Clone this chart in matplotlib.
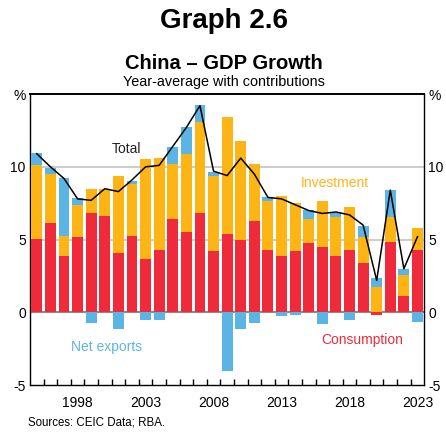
import numpy as np
import matplotlib.pyplot as plt

plt.rcParams['font.family'] = ['Liberation Sans', 'DejaVu Sans']

# Contributions to year-average GDP growth, ppt
years = np.arange(1995, 2024)
consumption = [5.05, 6.15, 3.9, 5.15, 6.8, 6.65, 4.1, 5.25, 3.65, 4.3,
               6.45, 5.5, 6.8, 4.25, 5.4, 5.0, 6.25, 4.3, 3.85, 4.2,
               4.8, 4.5, 3.9, 4.3, 3.4, -0.2, 4.85, 1.15, 4.3]
investment = [5.05, 3.35, 1.35, 2.2, 1.65, 1.8, 5.3, 3.6, 6.9, 6.3,
              3.75, 5.4, 6.3, 5.15, 8.0, 6.75, 3.95, 3.35, 4.15, 3.35,
              1.65, 3.15, 2.65, 2.95, 1.8, 1.75, 1.7, 1.45, 1.5]
net_exports = [0.85, 0.4, 3.95, 0.5, -0.75, 0.05, -1.15, 0.2, -0.55, -0.55,
               1.15, 1.85, 1.15, 0.25, -4.05, -1.15, -0.7, 0.25, -0.25, -0.15,
               0.6, -0.8, 0.3, -0.55, 0.75, 0.6, 1.85, 0.4, -0.65]
total = [10.9, 10.0, 9.2, 7.8, 7.7, 8.5, 8.3, 9.1, 10.0, 10.1,
         11.4, 12.7, 14.2, 9.7, 9.4, 10.6, 9.5, 7.9, 7.8, 7.4,
         7.0, 6.8, 6.9, 6.7, 6.0, 2.2, 8.4, 3.0, 5.2]

red = '#ef2a3b'
orange = '#fdb515'
blue = '#5bb5e4'

fig = plt.figure(figsize=(4.46, 4.32), dpi=100)
ax = fig.add_axes([0.0673, 0.1081, 0.884, 0.6743])

# stack positives upward and negatives downward
pos = np.zeros(len(years))
neg = np.zeros(len(years))
for vals, col in [(consumption, red), (investment, orange), (net_exports, blue)]:
    v = np.array(vals)
    bottom = np.where(v >= 0, pos, neg)
    ax.bar(years, v, bottom=bottom, width=0.8, color=col, zorder=3)
    pos = pos + np.where(v >= 0, v, 0)
    neg = neg + np.where(v < 0, v, 0)

ax.plot(years, total, color='black', lw=1.1, zorder=4)

for y in [5, 10]:
    ax.axhline(y, color='#c8c8c8', lw=1.3, zorder=1)
ax.axhline(0, color='#8a8a8a', lw=1.5, zorder=2)

ax.set_xlim(1994.5, 2023.5)
ax.set_ylim(-5, 15)
ax.set_yticks([-5, 0, 5, 10, 15])
ax.set_yticklabels(['-5', '0', '5', '10', '%'])
ax.tick_params(axis='y', length=0, labelsize=10, labelright=True, pad=3)

ax.set_xticks([1998, 2003, 2008, 2013, 2018, 2023])
ax.set_xticks(np.arange(1995.5, 2023, 1), minor=True)
ax.tick_params(axis='x', which='major', length=0, labelsize=10, pad=8)
ax.tick_params(axis='x', which='minor', direction='in', length=4.5,
               width=1, color='black')

for s in ax.spines.values():
    s.set_color('black')
    s.set_linewidth(1)
ax.spines['top'].set_linewidth(1.4)

ax.text(2001.6, 11.2, 'Total', ha='center', va='center', fontsize=10,
        color='#222222')
ax.text(2016.9, 8.9, 'Investment', ha='center', va='center', fontsize=10,
        color=orange)
ax.text(2000.1, -2.35, 'Net exports', ha='center', va='center', fontsize=10,
        color=blue)
ax.text(2018.9, -1.9, 'Consumption', ha='center', va='center', fontsize=10,
        color=red)

fig.text(0.502, 0.951, 'Graph 2.6', ha='center', va='center',
         fontsize=20, fontweight='bold')
fig.text(0.502, 0.853, 'China – GDP Growth', ha='center', va='center',
         fontsize=14.5, fontweight='bold')
fig.text(0.502, 0.81, 'Year-average with contributions', ha='center',
         va='center', fontsize=10.4)
fig.text(0.063, 0.023, 'Sources: CEIC Data; RBA.', ha='left', va='center',
         fontsize=8.3)

fig.savefig('out.png', dpi=100)
